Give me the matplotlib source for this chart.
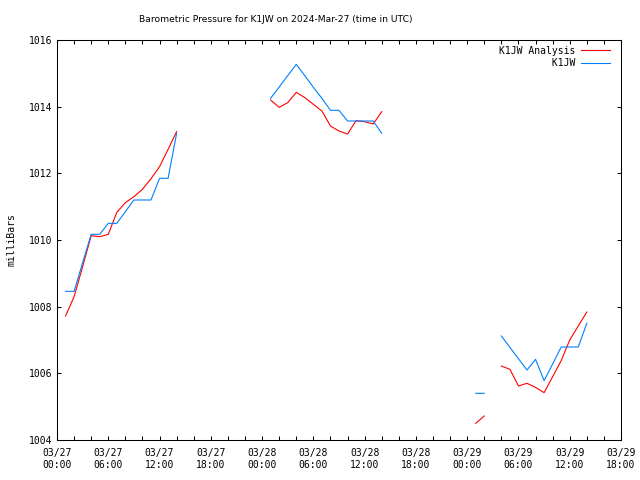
import datetime
import numpy as np
import matplotlib
matplotlib.use("Agg")
import matplotlib.pyplot as plt
import matplotlib.dates as mdates

nan = np.nan

# hours after 2024-03-27 00:00 UTC, nan rows break the lines
hours = [1, 2, 3, 4, 5, 6, 7, 8, 9, 10, 11, 12, 13, 14, 15,
         25, 26, 27, 28, 29, 30, 31, 32, 33, 34, 35, 36, 37, 38, 39,
         49, 50, 51,
         52, 53, 54, 55, 56, 57, 58, 59, 60, 61, 62]

analysis = [1007.72, 1008.30, 1009.20, 1010.13, 1010.10, 1010.17, 1010.83, 1011.12,
            1011.30, 1011.52, 1011.84, 1012.20, 1012.72, 1013.25, nan,
            1014.20, 1013.98, 1014.12, 1014.43, 1014.27, 1014.07, 1013.87, 1013.42,
            1013.27, 1013.18, 1013.58, 1013.55, 1013.48, 1013.85, nan,
            1004.50, 1004.72, nan,
            1006.22, 1006.12, 1005.62, 1005.70, 1005.58, 1005.42, 1005.90, 1006.38,
            1007.00, 1007.42, 1007.84]

station = [1008.46, 1008.46, 1009.32, 1010.17, 1010.17, 1010.50, 1010.50, 1010.85,
           1011.20, 1011.20, 1011.20, 1011.85, 1011.85, 1013.20, nan,
           1014.25, 1014.59, 1014.93, 1015.27, 1014.93, 1014.58, 1014.25, 1013.89,
           1013.89, 1013.57, 1013.57, 1013.57, 1013.57, 1013.20, nan,
           1005.40, 1005.40, nan,
           1007.12, 1006.78, 1006.44, 1006.10, 1006.42, 1005.78, 1006.28, 1006.79,
           1006.79, 1006.79, 1007.50]

labels = ["K1JW Analysis", "K1JW"]
colors = ["#ff0000", "#0080ff"]
title = "Barometric Pressure for K1JW on 2024-Mar-27 (time in UTC)"

start = datetime.datetime(2024, 3, 27)
times = [start + datetime.timedelta(hours=h) for h in hours]

mono = "DejaVu Sans Mono"
plt.rcParams["font.family"] = mono
plt.rcParams["font.size"] = 7

fig = plt.figure(figsize=(6.4, 4.8), dpi=100)
ax = fig.add_axes([57/640, 40/480, 564/640, 400/480])

# pad the shorter label so the monospace legend text lines up on the right
width = max(len(s) for s in labels)
ax.plot(times, analysis, color=colors[0], lw=0.8, label=labels[0].rjust(width))
ax.plot(times, station, color=colors[1], lw=0.8, label=labels[1].rjust(width))

ax.set_xlim(start, start + datetime.timedelta(hours=66))
ax.set_ylim(1004, 1016)
ax.set_yticks(np.arange(1004, 1017, 2))

ax.xaxis.set_major_locator(mdates.HourLocator(byhour=range(0, 24, 6)))
ax.xaxis.set_minor_locator(mdates.HourLocator(byhour=range(0, 24, 2)))
ax.xaxis.set_major_formatter(mdates.DateFormatter("%m/%d\n%H:%M"))

ax.tick_params(which="both", direction="in", length=3, width=0.75,
               top=True, right=True, labelsize=7, color="black")
ax.tick_params(axis="x", pad=6)
ax.tick_params(axis="y", pad=3)
for s in ax.spines.values():
    s.set_linewidth(0.75)

ax.set_ylabel("milliBars", fontsize=7)
ax.yaxis.set_label_coords(-(57 - 17) / 564, 0.5)

fig.text(276/640, 1 - 20/480, title, ha="center", va="center",
         fontsize=6.6, family="DejaVu Sans")

ax.legend(loc="upper right", bbox_to_anchor=(0.9805, 0.9855), frameon=False,
          markerfirst=False, handlelength=3.0, handletextpad=0.6,
          labelspacing=0.25, borderpad=0, borderaxespad=0, fontsize=7)

fig.savefig("out.png", dpi=100)
